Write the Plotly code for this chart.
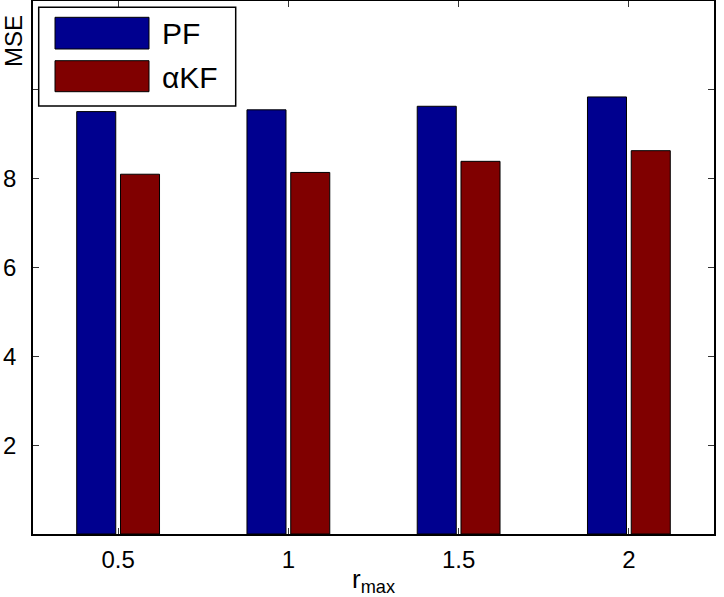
import plotly.graph_objects as go

r_max = [0.5, 1, 1.5, 2]
pf_mse = [9.51, 9.55, 9.63, 9.84]
akf_mse = [8.10, 8.14, 8.39, 8.63]
series_names = ["PF", "αKF"]
x_tick_labels = ["0.5", "1", "1.5", "2"]
y_ticks = [2, 4, 6, 8, 10]
y_tick_labels = ["2", "4", "6", "8", ""]  # the 10 label sits under the legend

BLUE = "#00008F"
RED = "#800000"
FONT = "Liberation Sans, Arial, Helvetica, sans-serif"

fig = go.Figure()
fig.add_trace(go.Bar(x=r_max, y=pf_mse, name=series_names[0], marker=dict(color=BLUE, line=dict(color="black", width=1))))
fig.add_trace(go.Bar(x=r_max, y=akf_mse, name=series_names[1], marker=dict(color=RED, line=dict(color="black", width=1))))

axis_common = dict(showline=True, linecolor="black", linewidth=1.5, mirror="ticks",
                   ticks="inside", ticklen=6, tickcolor="#333333", tickwidth=1,
                   showgrid=False, zeroline=False, automargin=False,
                   tickfont=dict(family=FONT, size=24, color="black"))

fig.update_layout(
    width=724, height=597,
    margin=dict(l=33, r=10, t=1, b=63, autoexpand=False),
    paper_bgcolor="white", plot_bgcolor="white",
    barmode="group", bargap=0.486, bargroupgap=0.108,
    showlegend=False,
    xaxis=dict(range=[0.25, 2.25], tickvals=r_max, ticktext=x_tick_labels,
               ticklabelstandoff=3,
               title=dict(text="r<sub>max</sub>", font=dict(family=FONT, size=26, color="black"), standoff=0),
               **axis_common),
    yaxis=dict(range=[0, 12], tickvals=y_ticks, ticktext=y_tick_labels, ticklabelstandoff=10, **axis_common),
    font=dict(family=FONT, color="black"),
)

# y-axis label placed at the top like the original
fig.add_annotation(text="MSE", xref="paper", yref="paper", x=-0.028, y=0.925,
                   textangle=-90, showarrow=False, xanchor="center", yanchor="middle",
                   font=dict(family=FONT, size=24, color="black"))

# legend drawn as a boxed key
def px_x(p):
    return (p - 33) / 681

def px_y(p):
    return (534 - p) / 533

fig.add_shape(type="rect", xref="paper", yref="paper",
              x0=px_x(38.7), x1=px_x(235.7), y0=px_y(106), y1=px_y(7.3),
              fillcolor="white", line=dict(color="black", width=1.5), layer="above")
swatches = [(17.3, 49, BLUE, 34), (60.7, 91.7, RED, 78)]
for (top, bot, col, cy), name in zip(swatches, series_names):
    fig.add_shape(type="rect", xref="paper", yref="paper",
                  x0=px_x(55), x1=px_x(149), y0=px_y(bot), y1=px_y(top),
                  fillcolor=col, line=dict(color="black", width=1), layer="above")
    fig.add_annotation(text=name, xref="paper", yref="paper", x=px_x(160), y=px_y(cy),
                       xanchor="left", yanchor="middle", showarrow=False,
                       font=dict(family=FONT, size=30, color="black"))

fig.write_html("out.html")
